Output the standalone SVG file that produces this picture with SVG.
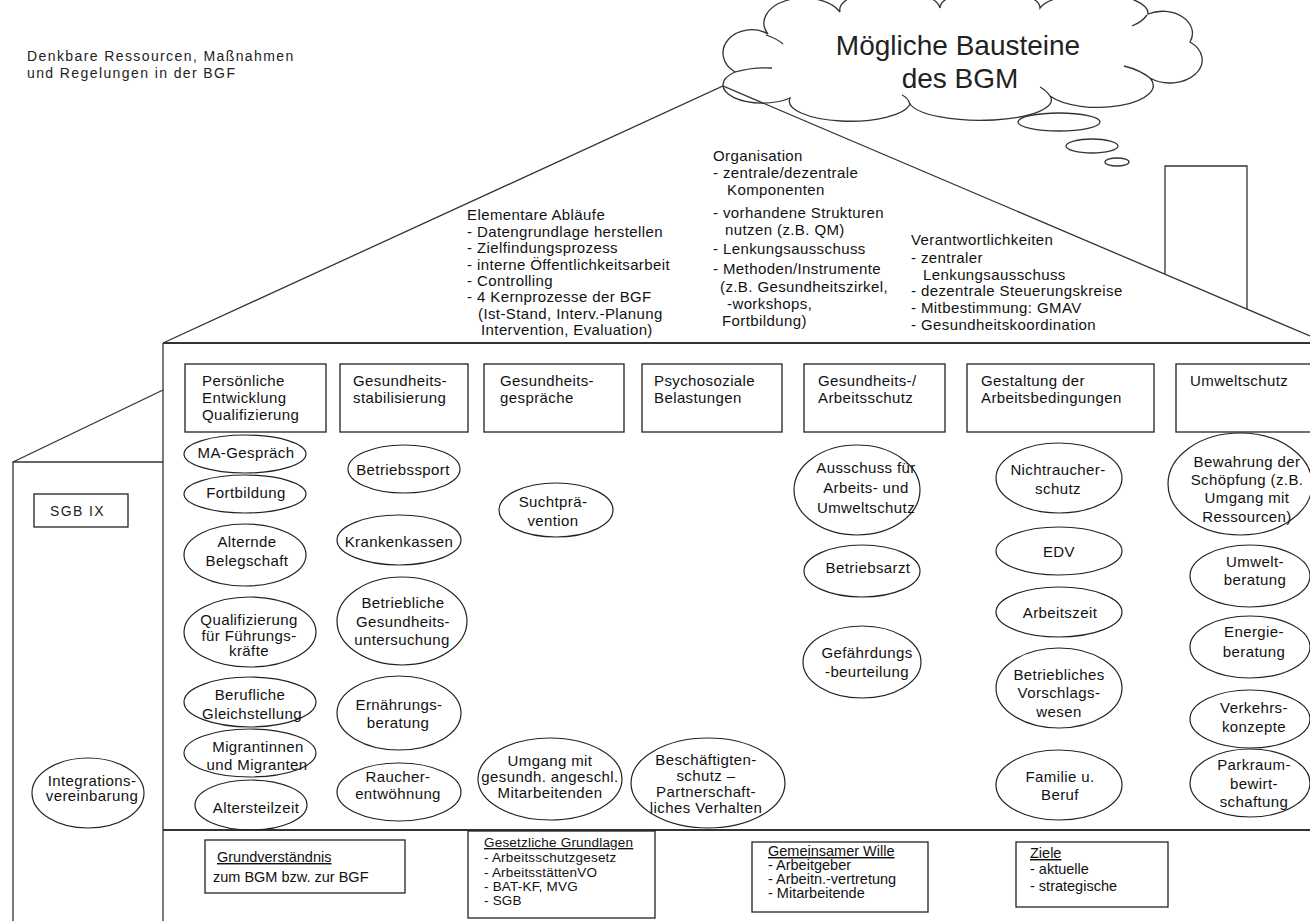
<svg xmlns="http://www.w3.org/2000/svg" width="1310" height="921" viewBox="0 0 1310 921">
<style>
.t{font-family:"Liberation Sans",Arial,sans-serif;font-size:15px;letter-spacing:0.4px;fill:#111}
.m{text-anchor:middle}
.b{font-family:"Liberation Sans",Arial,sans-serif;font-size:14.5px;fill:#111}
.bs{font-family:"Liberation Sans",Arial,sans-serif;font-size:13.5px;letter-spacing:0.2px;fill:#111}
.u{text-decoration:underline}
.tt{font-family:"Liberation Sans",Arial,sans-serif;font-size:14px;letter-spacing:1.4px;fill:#222}
.s{stroke:#333;fill:none;stroke-width:1.3}
.w{stroke:#333;fill:none;stroke-width:2.2}
.r{stroke:#222;fill:#fff;stroke-width:1.3}
.e{stroke:#222;fill:none;stroke-width:1.2}
</style>
<rect width="1310" height="921" fill="#fff"/>

<g id="title">
<text class="tt" x="27" y="61">Denkbare Ressourcen, Maßnahmen</text>
<text class="tt" x="27" y="78">und Regelungen in der BGF</text>
</g>

<g id="cloud">
<path class="s" d="M735,72 A22,18 0 0 1 768,34 A40,25 0 0 1 840,12 A50,20 0 0 1 940,8 A50,18 0 0 1 1040,8 A55,20 0 0 1 1148,14 A30,22 0 0 1 1190,42 A28,20 0 0 1 1150,78 A55,22 0 0 1 1050,96 A70,20 0 0 1 910,104 A60,20 0 0 1 790,98 A35,16 0 0 1 735,72 Z"/>
<path class="s" d="M766,35 Q776,38 783,44 M735,72 Q752,67 772,68 M1147,15 Q1142,22 1132,26 M1150,78 Q1140,70 1124,66 M910,104 Q908,98 902,95 M1050,96 Q1046,90 1040,87"/>
<text x="958" y="55" font-family="Liberation Sans,Arial,sans-serif" font-size="28" fill="#222" text-anchor="middle">Mögliche Bausteine</text>
<text x="960" y="88" font-family="Liberation Sans,Arial,sans-serif" font-size="28" fill="#222" text-anchor="middle">des BGM</text>
<ellipse class="s" cx="1059" cy="122" rx="41" ry="9"/>
<ellipse class="s" cx="1092" cy="146" rx="26" ry="7"/>
<ellipse class="s" cx="1117" cy="162" rx="12" ry="4"/>
</g>

<g id="house">
<polyline class="s" points="163,343 723,86 1310,336"/>
<polyline class="s" points="1165,274 1165,166 1247,166 1247,309"/>
<line class="w" x1="163" y1="343" x2="1310" y2="343"/>
<line class="s" x1="163" y1="343" x2="163" y2="921"/>
<line class="w" x1="163" y1="830" x2="1310" y2="830"/>
<polyline class="s" points="13,921 13,462 163,462"/>
<line class="s" x1="13" y1="462" x2="163" y2="390"/>
</g>

<g id="roof-elementare">
<text class="t" x="467" y="220">Elementare Abläufe</text>
<text class="t" x="467" y="236.5">- Datengrundlage herstellen</text>
<text class="t" x="467" y="253">- Zielfindungsprozess</text>
<text class="t" x="467" y="269.5">- interne Öffentlichkeitsarbeit</text>
<text class="t" x="467" y="286">- Controlling</text>
<text class="t" x="467" y="302">- 4 Kernprozesse der BGF</text>
<text class="t" x="478" y="318.5">(Ist-Stand, Interv.-Planung</text>
<text class="t" x="481" y="335">Intervention, Evaluation)</text>
</g>

<g id="roof-organisation">
<text class="t" x="713" y="161">Organisation</text>
<text class="t" x="713" y="178">-  zentrale/dezentrale</text>
<text class="t" x="727" y="195">Komponenten</text>
<text class="t" x="713" y="218">-  vorhandene Strukturen</text>
<text class="t" x="725" y="235">nutzen (z.B. QM)</text>
<text class="t" x="713" y="254">-  Lenkungsausschuss</text>
<text class="t" x="713" y="274">- Methoden/Instrumente</text>
<text class="t" x="720" y="292">(z.B. Gesundheitszirkel,</text>
<text class="t" x="727" y="309">-workshops,</text>
<text class="t" x="722" y="326">Fortbildung)</text>
</g>

<g id="roof-verantwortlichkeiten">
<text class="t" x="911" y="245">Verantwortlichkeiten</text>
<text class="t" x="911" y="263">- zentraler</text>
<text class="t" x="923" y="280">Lenkungsausschuss</text>
<text class="t" x="911" y="296">- dezentrale Steuerungskreise</text>
<text class="t" x="911" y="313">- Mitbestimmung: GMAV</text>
<text class="t" x="911" y="330">- Gesundheitskoordination</text>
</g>

<g id="h1"><rect class="r" x="185" y="364" width="141" height="68"/>
<text class="t" x="202" y="386">Persönliche</text><text class="t" x="202" y="403">Entwicklung</text><text class="t" x="202" y="420">Qualifizierung</text></g>
<g id="h2"><rect class="r" x="340" y="364" width="128" height="68"/>
<text class="t" x="353" y="386">Gesundheits-</text><text class="t" x="353" y="403">stabilisierung</text></g>
<g id="h3"><rect class="r" x="484" y="364" width="140" height="68"/>
<text class="t" x="500" y="386">Gesundheits-</text><text class="t" x="500" y="403">gespräche</text></g>
<g id="h4"><rect class="r" x="642" y="364" width="140" height="68"/>
<text class="t" x="654" y="386">Psychosoziale</text><text class="t" x="654" y="403">Belastungen</text></g>
<g id="h5"><rect class="r" x="804" y="364" width="141" height="68"/>
<text class="t" x="818" y="386">Gesundheits-/</text><text class="t" x="818" y="403">Arbeitsschutz</text></g>
<g id="h6"><rect class="r" x="967" y="364" width="187" height="68"/>
<text class="t" x="981" y="386">Gestaltung der</text><text class="t" x="981" y="403">Arbeitsbedingungen</text></g>
<g id="h7"><rect class="r" x="1176" y="364" width="142" height="68"/>
<text class="t" x="1190" y="386">Umweltschutz</text></g>

<g id="sgb9"><rect class="r" x="34" y="494" width="94" height="33"/>
<text class="tt" x="50" y="516">SGB IX</text></g>
<g id="integration"><ellipse class="e" cx="88" cy="793" rx="56" ry="35"/>
<text class="t m" x="92" y="786">Integrations-</text><text class="t m" x="92" y="801">vereinbarung</text></g>

<g id="c1-ma"><ellipse class="e" cx="245" cy="454" rx="61" ry="19"/>
<text class="t m" x="246" y="458">MA-Gespräch</text></g>
<g id="c1-fort"><ellipse class="e" cx="245" cy="494" rx="61" ry="19"/>
<text class="t m" x="246" y="498">Fortbildung</text></g>
<g id="c1-alt"><ellipse class="e" cx="245" cy="555" rx="61" ry="31"/>
<text class="t m" x="247" y="547">Alternde</text><text class="t m" x="247" y="566">Belegschaft</text></g>
<g id="c1-quali"><ellipse class="e" cx="250" cy="632" rx="66" ry="35"/>
<text class="t m" x="249" y="625">Qualifizierung</text><text class="t m" x="249" y="641">für Führungs-</text><text class="t m" x="249" y="656">kräfte</text></g>
<g id="c1-beruf"><ellipse class="e" cx="250" cy="702" rx="66" ry="25"/>
<text class="t m" x="250" y="700">Berufliche</text><text class="t m" x="252" y="719">Gleichstellung</text></g>
<g id="c1-migr"><ellipse class="e" cx="250" cy="753" rx="66" ry="24"/>
<text class="t m" x="258" y="752">Migrantinnen</text><text class="t m" x="257" y="770">und Migranten</text></g>
<g id="c1-ats"><ellipse class="e" cx="251" cy="805" rx="56" ry="25"/>
<text class="t m" x="256" y="813">Altersteilzeit</text></g>

<g id="c2-sport"><ellipse class="e" cx="404" cy="469" rx="56" ry="24"/>
<text class="t m" x="403" y="475">Betriebssport</text></g>
<g id="c2-kk"><ellipse class="e" cx="399" cy="540" rx="62" ry="25"/>
<text class="t m" x="399" y="547">Krankenkassen</text></g>
<g id="c2-bgu"><ellipse class="e" cx="402" cy="621" rx="65" ry="44"/>
<text class="t m" x="403" y="608">Betriebliche</text><text class="t m" x="403" y="627">Gesundheits-</text><text class="t m" x="402" y="645">untersuchung</text></g>
<g id="c2-ern"><ellipse class="e" cx="399" cy="713" rx="62" ry="37"/>
<text class="t m" x="399" y="710">Ernährungs-</text><text class="t m" x="398" y="728">beratung</text></g>
<g id="c2-rauch"><ellipse class="e" cx="399" cy="792" rx="62" ry="29"/>
<text class="t m" x="398" y="782">Raucher-</text><text class="t m" x="398" y="799">entwöhnung</text></g>

<g id="c3-sucht"><ellipse class="e" cx="556" cy="510" rx="57" ry="27"/>
<text class="t m" x="553" y="507">Suchtprä-</text><text class="t m" x="553" y="526">vention</text></g>
<g id="c3-umgang"><ellipse class="e" cx="550" cy="779" rx="72" ry="41"/>
<text class="t m" x="550" y="766">Umgang mit</text><text class="t m" x="550" y="782">gesundh. angeschl.</text><text class="t m" x="550" y="798">Mitarbeitenden</text></g>
<g id="c4-besch"><ellipse class="e" cx="708" cy="783" rx="77" ry="45"/>
<text class="t m" x="706" y="765">Beschäftigten-</text><text class="t m" x="706" y="781">schutz –</text><text class="t m" x="706" y="797">Partnerschaft-</text><text class="t m" x="706" y="813">liches Verhalten</text></g>

<g id="c5-aus"><ellipse class="e" cx="857" cy="490" rx="63" ry="45"/>
<text class="t m" x="866" y="473">Ausschuss für</text><text class="t m" x="866" y="493">Arbeits- und</text><text class="t m" x="866" y="513">Umweltschutz</text></g>
<g id="c5-arzt"><ellipse class="e" cx="862" cy="571" rx="58" ry="26"/>
<text class="t m" x="868" y="573">Betriebsarzt</text></g>
<g id="c5-gef"><ellipse class="e" cx="862" cy="662" rx="59" ry="36"/>
<text class="t m" x="867" y="658">Gefährdungs</text><text class="t m" x="867" y="677">-beurteilung</text></g>

<g id="c6-nicht"><ellipse class="e" cx="1059" cy="478" rx="63" ry="35"/>
<text class="t m" x="1058" y="475">Nichtraucher-</text><text class="t m" x="1058" y="494">schutz</text></g>
<g id="c6-edv"><ellipse class="e" cx="1059" cy="551" rx="63" ry="24"/>
<text class="t m" x="1059" y="557">EDV</text></g>
<g id="c6-az"><ellipse class="e" cx="1059" cy="612" rx="63" ry="25"/>
<text class="t m" x="1060" y="618">Arbeitszeit</text></g>
<g id="c6-bvw"><ellipse class="e" cx="1059" cy="688" rx="63" ry="40"/>
<text class="t m" x="1059" y="680">Betriebliches</text><text class="t m" x="1059" y="698">Vorschlags-</text><text class="t m" x="1059" y="717">wesen</text></g>
<g id="c6-fam"><ellipse class="e" cx="1059" cy="785" rx="63" ry="35"/>
<text class="t m" x="1060" y="782">Familie u.</text><text class="t m" x="1060" y="800">Beruf</text></g>

<g id="c7-bew"><ellipse class="e" cx="1240" cy="484" rx="72" ry="51"/>
<text class="t m" x="1247" y="467">Bewahrung der</text><text class="t m" x="1247" y="485">Schöpfung (z.B.</text><text class="t m" x="1247" y="503">Umgang mit</text><text class="t m" x="1247" y="522">Ressourcen)</text></g>
<g id="c7-umw"><ellipse class="e" cx="1250" cy="576" rx="60" ry="31"/>
<text class="t m" x="1255" y="567">Umwelt-</text><text class="t m" x="1255" y="585">beratung</text></g>
<g id="c7-en"><ellipse class="e" cx="1250" cy="647" rx="60" ry="31"/>
<text class="t m" x="1254" y="637">Energie-</text><text class="t m" x="1254" y="657">beratung</text></g>
<g id="c7-verk"><ellipse class="e" cx="1250" cy="719" rx="60" ry="29"/>
<text class="t m" x="1254" y="713">Verkehrs-</text><text class="t m" x="1254" y="732">konzepte</text></g>
<g id="c7-park"><ellipse class="e" cx="1250" cy="783" rx="60" ry="34"/>
<text class="t m" x="1254" y="770">Parkraum-</text><text class="t m" x="1254" y="789">bewirt-</text><text class="t m" x="1254" y="807">schaftung</text></g>

<g id="b-grund"><rect class="r" x="205" y="840" width="200" height="53"/>
<text class="b u" x="217" y="862">Grundverständnis</text><text class="b" x="213" y="882">zum BGM bzw. zur BGF</text></g>
<g id="b-gesetz"><rect class="r" x="468" y="831" width="187" height="87"/>
<text class="bs u" x="484" y="847">Gesetzliche Grundlagen</text>
<text class="bs" x="484" y="862">- Arbeitsschutzgesetz</text>
<text class="bs" x="484" y="876.5">- ArbeitsstättenVO</text>
<text class="bs" x="484" y="891">- BAT-KF, MVG</text>
<text class="bs" x="484" y="905">- SGB</text></g>
<g id="b-wille"><rect class="r" x="752" y="842" width="176" height="70"/>
<text class="b u" x="768" y="856">Gemeinsamer Wille</text>
<text class="b" x="768" y="870">- Arbeitgeber</text>
<text class="b" x="768" y="884">- Arbeitn.-vertretung</text>
<text class="b" x="768" y="898">- Mitarbeitende</text></g>
<g id="b-ziele"><rect class="r" x="1016" y="842" width="152" height="65"/>
<text class="b u" x="1030" y="858">Ziele</text>
<text class="b" x="1030" y="874">- aktuelle</text>
<text class="b" x="1030" y="891">- strategische</text></g>

<g id="connectors"></g>
</svg>
